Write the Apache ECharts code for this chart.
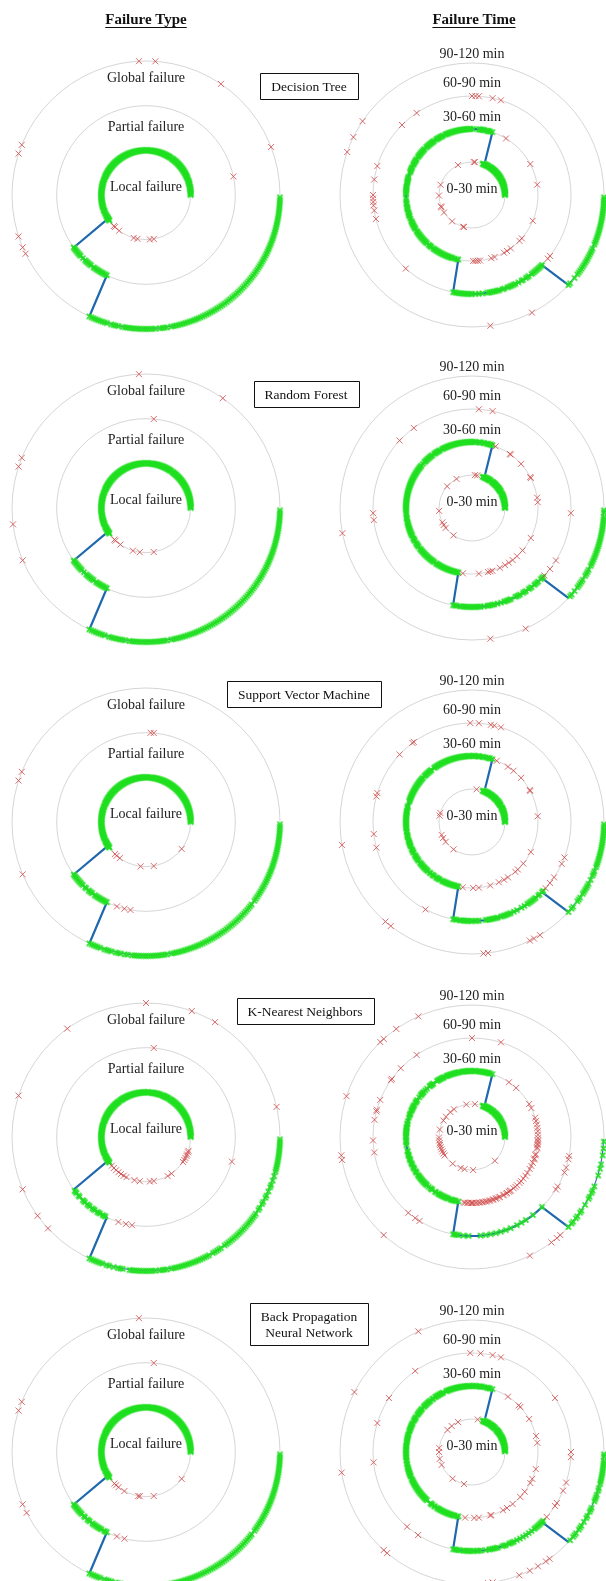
<!DOCTYPE html>
<html>
<head>
<meta charset="utf-8">
<script src="https://cdn.jsdelivr.net/npm/echarts@6/dist/echarts.min.js"></script>
<style>
  html, body { margin: 0; padding: 0; background: #ffffff; }
  #chart { width: 606px; height: 1581px; }
</style>
</head>
<body>
<div id="chart"></div>
<script>
// Spiral class plots: each test sample sits at one degree of the circle,
// its radius is the class level (true class line + correct/wrong predictions).

const modelNames = [
  'Decision Tree',
  'Random Forest',
  'Support Vector Machine',
  'K-Nearest Neighbors',
  'Back Propagation\nNeural Network'
];

const typeLevels = ['Local failure', 'Partial failure', 'Global failure'];
const timeLevels = ['0-30 min', '30-60 min', '60-90 min', '90-120 min'];

// number of test samples per true class (samples are sorted by class)
const typeClassCounts = [216, 29, 115];
const timeClassCounts = [72, 187, 58, 43];

// misclassified samples: [sample index, predicted level]
const dtTypeErrors = [
  [93, 3], [86, 3], [56, 3], [21, 3], [12, 2], [158, 3], [162, 3], [198, 3], [203, 3], [206, 3],
  [224, 1], [226, 1], [233, 1], [254, 1], [259, 1], [275, 1], [280, 1]
];
const rfTypeErrors = [
  [93, 3], [55, 3], [85, 2], [158, 3], [162, 3], [187, 3], [203, 3],
  [225, 1], [227, 1], [235, 1], [253, 1], [262, 1], [280, 1]
];
const svmTypeErrors = [
  [87, 2], [85, 2], [158, 3], [162, 3], [203, 3], [323, 1],
  [226, 1], [229, 1], [234, 1], [263, 1], [280, 1], [251, 2], [256, 2], [260, 2]
];
const knnTypeErrors = [
  [90, 3], [70, 3], [59, 3], [126, 3], [162, 3], [13, 3], [85, 2], [344, 2], [203, 3], [216, 3], [223, 3],
  [220, 1], [224, 1], [228, 1], [232, 1], [236, 1], [240, 1], [244, 1], [255, 1], [262, 1], [275, 1], [280, 1],
  [299, 1], [305, 1], [326, 1], [329, 1], [332, 1], [335, 1], [337, 1], [340, 1], [342, 1],
  [252, 2], [257, 2], [261, 2]
];
const bpnnTypeErrors = [
  [93, 3], [85, 2], [158, 3], [162, 3], [203, 3], [207, 3], [323, 1],
  [225, 1], [228, 1], [232, 1], [241, 1], [260, 1], [262, 1], [280, 1], [251, 2], [256, 2]
];

const dtTimeErrors = [
  [90, 3], [88, 3], [86, 3], [78, 3], [73, 3], [124, 3], [135, 3], [163, 3], [171, 3], [180, 3],
  [182, 3], [184, 3], [186, 3], [189, 3], [194, 3], [228, 3], [320, 3], [322, 3],
  [146, 4], [154, 4], [161, 4], [297, 4], [278, 4],
  [59, 2], [28, 2], [9, 2], [337, 2], [271, 2], [273, 2], [275, 2], [277, 2], [287, 2], [290, 2],
  [299, 2], [302, 2], [306, 2], [316, 2], [319, 2],
  [115, 1], [85, 1], [87, 1], [162, 1], [181, 1], [200, 1], [202, 1], [212, 1], [233, 1], [254, 1], [256, 1]
];
const rfTimeErrors = [
  [86, 3], [78, 3], [126, 3], [137, 3], [357, 3], [183, 3], [187, 3], [317, 3], [322, 3], [328, 3],
  [191, 4], [294, 4], [278, 4],
  [69, 2], [55, 2], [54, 2], [42, 2], [28, 2], [27, 2], [9, 2], [5, 2], [333, 2], [262, 2], [276, 2],
  [284, 2], [286, 2], [288, 2], [295, 2], [300, 2], [304, 2], [308, 2], [313, 2], [320, 2],
  [118, 1], [139, 1], [85, 1], [81, 1], [185, 1], [206, 1], [211, 1], [217, 1], [236, 1]
];
const svmTimeErrors = [
  [91, 3], [86, 3], [79, 3], [77, 3], [73, 3], [126, 3], [127, 3], [137, 3], [163, 3], [165, 3],
  [187, 3], [195, 3], [242, 3], [318, 3], [322, 3], [326, 3], [335, 3], [339, 3],
  [190, 4], [229, 4], [232, 4], [296, 4], [298, 4], [301, 4], [275, 4], [277, 4],
  [68, 2], [57, 2], [51, 2], [42, 2], [28, 2], [29, 2], [5, 2], [333, 2], [321, 2], [262, 2], [271, 2],
  [276, 2], [286, 2], [294, 2], [299, 2], [303, 2], [311, 2], [314, 2],
  [82, 1], [164, 1], [169, 1], [203, 1], [209, 1], [217, 1], [236, 1]
];
const knnTimeErrors = [
  [114, 4], [125, 4], [132, 4], [134, 4], [162, 4], [188, 4], [190, 4], [228, 4], [296, 4], [307, 4], [310, 4], [312, 4],
  [90, 3], [73, 3], [124, 3], [136, 3], [144, 3], [145, 3], [158, 3], [164, 3], [165, 3], [170, 3], [182, 3],
  [189, 3], [230, 3], [235, 3], [238, 3], [328, 3], [330, 3], [339, 3], [342, 3], [347, 3], [349, 3],
  [56, 2], [48, 2], [30, 2], [26, 2], [2, 2], [5, 2], [8, 2], [11, 2], [14, 2], [17, 2],
  [263, 2], [264, 2], [266, 2], [267, 2], [269, 2], [270, 2], [271, 2], [273, 2], [274, 2], [276, 2],
  [277, 2], [279, 2], [280, 2], [282, 2], [283, 2], [285, 2], [286, 2], [288, 2], [289, 2], [291, 2],
  [292, 2], [294, 2], [295, 2], [298, 2], [299, 2], [301, 2], [302, 2], [304, 2], [305, 2], [306, 2],
  [309, 2], [311, 2], [313, 2], [316, 2], [318, 2], [321, 2], [324, 2], [327, 2], [331, 2], [334, 2],
  [337, 2], [340, 2], [341, 2], [344, 2], [345, 2], [350, 2], [351, 2], [353, 2], [354, 2], [356, 2],
  [357, 2], [359, 2],
  [100, 1], [85, 1], [123, 1], [131, 1], [142, 1], [150, 1], [167, 1], [181, 1], [186, 1], [191, 1],
  [194, 1], [198, 1], [202, 1], [206, 1], [210, 1], [214, 1], [234, 1], [250, 1], [257, 1], [272, 1], [314, 1]
];
const bpnnTimeErrors = [
  [114, 4], [153, 4], [189, 4], [228, 4], [230, 4], [277, 4], [279, 4], [291, 4], [296, 4], [300, 4], [304, 4], [306, 4],
  [33, 3], [91, 3], [85, 3], [78, 3], [73, 3], [125, 3], [147, 3], [163, 3], [186, 3], [229, 3], [237, 3],
  [0, 3], [357, 3], [342, 3], [337, 3], [329, 3], [327, 3], [319, 3],
  [57, 2], [45, 2], [43, 2], [30, 2], [14, 2], [8, 2], [345, 2], [336, 2], [332, 2], [323, 2], [317, 2],
  [308, 2], [302, 2], [298, 2], [287, 2], [286, 2], [276, 2], [272, 2], [264, 2],
  [80, 1], [115, 1], [128, 1], [138, 1], [173, 1], [180, 1], [192, 1], [203, 1], [234, 1], [256, 1]
];

const typeErrorsByModel = [dtTypeErrors, rfTypeErrors, svmTypeErrors, knnTypeErrors, bpnnTypeErrors];
const timeErrorsByModel = [dtTimeErrors, rfTimeErrors, svmTimeErrors, knnTimeErrors, bpnnTimeErrors];

// ---------- layout ----------
const SAMPLE_COUNT = 360;
const rowCenters = [195, 508, 822, 1137, 1452];
const leftCx = 146, rightCx = 472;
const leftRadius = 134, rightRadius = 132;
const SERIF = '"Liberation Serif", "Times New Roman", serif';
const CROSS = 'path://M0,0L10,10M10,0L0,10';

function expandCounts(counts) {
  const out = [];
  counts.forEach((c, k) => { for (let j = 0; j < c; j++) out.push(k + 1); });
  return out;
}

function panelSeries(polarIndex, counts, errors) {
  const truth = expandCounts(counts);
  const wrong = new Map(errors.map(e => [e[0], e[1]]));
  const truthPts = truth.map((lv, i) => [lv, i]);
  const correct = truthPts.filter(p => !wrong.has(p[1]));
  return [
    {
      type: 'line', coordinateSystem: 'polar', polarIndex,
      data: truthPts, showSymbol: false, symbol: 'none', silent: true,
      lineStyle: { color: '#1f68ad', width: 2.2 }, z: 2
    },
    {
      // correct predictions, drawn as a soft halo and a bright core
      type: 'scatter', coordinateSystem: 'polar', polarIndex,
      data: correct, symbol: CROSS, symbolSize: 6, silent: true,
      itemStyle: { color: 'rgba(0,0,0,0)', borderColor: 'rgba(80,230,80,0.5)', borderWidth: 2.2 }, z: 3
    },
    {
      type: 'scatter', coordinateSystem: 'polar', polarIndex,
      data: correct, symbol: CROSS, symbolSize: 4.5, silent: true,
      itemStyle: { color: 'rgba(0,0,0,0)', borderColor: '#1fe01f', borderWidth: 1.8 }, z: 3
    },
    {
      type: 'scatter', coordinateSystem: 'polar', polarIndex,
      data: errors.map(e => [e[1], e[0]]),
      symbol: CROSS, symbolSize: 6, silent: true,
      itemStyle: { color: 'rgba(0,0,0,0)', borderColor: '#d24a4a', borderWidth: 1 }, z: 4
    }
  ];
}

const polar = [], angleAxis = [], radiusAxis = [], series = [], graphic = [];

rowCenters.forEach((cy, r) => {
  [[leftCx, leftRadius, typeLevels.length], [rightCx, rightRadius, timeLevels.length]].forEach(([cx, rad, levels], side) => {
    const idx = polar.length;
    polar.push({ center: [cx, cy], radius: [0, rad] });
    angleAxis.push({
      polarIndex: idx, type: 'value', min: 0, max: SAMPLE_COUNT,
      startAngle: 0, clockwise: false,
      axisLine: { show: false }, axisTick: { show: false }, axisLabel: { show: false },
      splitLine: { show: false }, splitArea: { show: false }
    });
    radiusAxis.push({
      polarIndex: idx, type: 'value', min: 0, max: levels, interval: 1,
      axisLine: { show: false }, axisTick: { show: false }, axisLabel: { show: false },
      splitArea: { show: false },
      splitLine: { show: true, lineStyle: { color: '#d6d6d6', width: 1 } }
    });
    if (side === 0) series.push(...panelSeries(idx, typeClassCounts, typeErrorsByModel[r]));
    else series.push(...panelSeries(idx, timeClassCounts, timeErrorsByModel[r]));
  });

  // ring names
  const typeOffsets = [-8, -68, -117];
  typeLevels.forEach((t, k) => graphic.push({
    type: 'text', x: leftCx, y: cy + typeOffsets[k], silent: true, z: 10,
    style: { text: t, font: '14px ' + SERIF, fill: '#222', align: 'center', verticalAlign: 'middle' }
  }));
  const timeOffsets = [-6, -78, -112, -141];
  timeLevels.forEach((t, k) => graphic.push({
    type: 'text', x: rightCx, y: cy + timeOffsets[k], silent: true, z: 10,
    style: { text: t, font: '14px ' + SERIF, fill: '#222', align: 'center', verticalAlign: 'middle' }
  }));
});

// text measuring for the boxed model names and the underlined headers
const measureCtx = document.createElement('canvas').getContext('2d');
function textWidth(text, font) {
  measureCtx.font = font;
  return Math.max(...text.split('\n').map(s => measureCtx.measureText(s).width));
}

const boxLayout = [
  { cx: 309, top: 73, h: 26 },
  { cx: 306, top: 381, h: 26 },
  { cx: 304, top: 681, h: 26 },
  { cx: 305, top: 998, h: 26 },
  { cx: 309, top: 1303, h: 42 }
];
const boxFont = '13.5px ' + SERIF;
modelNames.forEach((name, r) => {
  const b = boxLayout[r];
  const w = Math.round(textWidth(name, boxFont) + 22);
  const x0 = Math.round(b.cx - w / 2) + 0.5;
  graphic.push({
    type: 'rect', silent: true, z: 11,
    shape: { x: x0, y: b.top + 0.5, width: w, height: b.h },
    style: { fill: '#ffffff', stroke: '#111', lineWidth: 1 }
  });
  graphic.push({
    type: 'text', x: b.cx, y: b.top + b.h / 2 + 1, silent: true, z: 12,
    style: { text: name, font: boxFont, fill: '#111', align: 'center', verticalAlign: 'middle', lineHeight: 16 }
  });
});

// column headers
const headFont = 'bold 15px ' + SERIF;
[['Failure Type', 146], ['Failure Time', 474]].forEach(([t, cx]) => {
  const w = textWidth(t, headFont);
  graphic.push({
    type: 'text', x: cx, y: 20, silent: true, z: 12,
    style: { text: t, font: headFont, fill: '#111', align: 'center', verticalAlign: 'middle' }
  });
  graphic.push({
    type: 'line', silent: true, z: 12,
    shape: { x1: cx - w / 2, y1: 27.5, x2: cx + w / 2, y2: 27.5 },
    style: { stroke: '#111', lineWidth: 1 }
  });
});

const chart = echarts.init(document.getElementById('chart'), null, { renderer: 'canvas' });
chart.setOption({
  backgroundColor: '#ffffff',
  animation: false,
  polar, angleAxis, radiusAxis, series, graphic
});
</script>
</body>
</html>
